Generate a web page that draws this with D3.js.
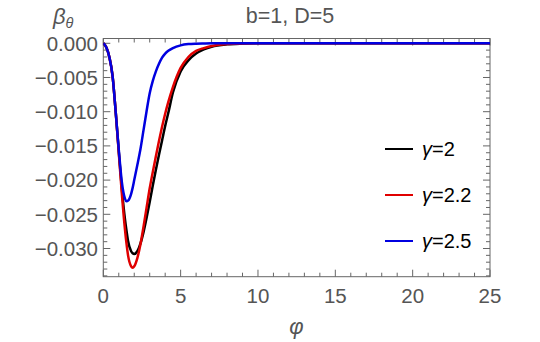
<!DOCTYPE html>
<html><head><meta charset="utf-8">
<script src="https://cdn.jsdelivr.net/npm/d3@7"></script>
<style>body{margin:0;background:#fff}svg{display:block}text{font-family:"Liberation Sans",Arial,sans-serif}</style>
</head><body><svg id="c" width="540" height="342"></svg>
<script>
const title = "b=1, D=5";
const phi = [0,0.2,0.4,0.6,0.8,1.0,1.2,1.4,1.5,1.6,1.8,1.9,2.0,2.2,2.4,2.6,2.8,3.0,3.2,3.4,3.6,3.8,4.0,4.2,4.5,5.0,5.5,6.0,6.5,7.0,8.0,9.0,10,15,20,25];
const gamma2 = [0,-0.0006,-0.0021,-0.0048,-0.0100,-0.0158,-0.0213,-0.0257,-0.0274,-0.0289,-0.0304,-0.0307,-0.0308,-0.0304,-0.0293,-0.0276,-0.0255,-0.0232,-0.0208,-0.0185,-0.0163,-0.0142,-0.0121,-0.0102,-0.0072,-0.0041,-0.0025,-0.0015,-0.0009,-0.0005,-0.00015,-0.00004,0,0,0,0];
const gamma22 = [0,-0.0006,-0.0021,-0.0048,-0.0100,-0.0160,-0.0220,-0.0272,-0.0293,-0.0310,-0.0326,-0.0328,-0.0326,-0.0314,-0.0294,-0.0268,-0.0240,-0.0212,-0.0188,-0.0165,-0.0143,-0.0122,-0.0103,-0.0086,-0.0064,-0.0036,-0.0020,-0.0011,-0.0007,-0.0004,-0.0001,-0.00002,0,0,0,0];
const gamma25 = [0,-0.0006,-0.0021,-0.0048,-0.0100,-0.0155,-0.0203,-0.0227,-0.0231,-0.0230,-0.0220,-0.0211,-0.0200,-0.0178,-0.0155,-0.0127,-0.0099,-0.0073,-0.0055,-0.0041,-0.0030,-0.0021,-0.0015,-0.0011,-0.0007,-0.0003,-0.00012,-0.00005,-0.00002,0,0,0,0,0,0,0];
const seriesNames = ["\u03b3=2","\u03b3=2.2","\u03b3=2.5"];
const seriesColors = ["#000000","#e00000","#0000e0"];
const xTicks = [0,5,10,15,20,25];
const yTicks = [0,-0.005,-0.010,-0.015,-0.020,-0.025,-0.030];
const yTickLabels = ["0.000","\u22120.005","\u22120.010","\u22120.015","\u22120.020","\u22120.025","\u22120.030"];

const svg = d3.select("#c");
const L=103.3, R=490, T=38.5, B=276.7;
const x = d3.scaleLinear().domain([0,25]).range([L,R]);
const y = d3.scaleLinear().domain([-0.03412,0.0007]).range([B,T]);
const gray = "#666";
const txt = "#555";

svg.append("rect").attr("x",L).attr("y",T).attr("width",R-L).attr("height",B-T)
  .attr("fill","none").attr("stroke",gray).attr("stroke-width",1);

const xMinor = d3.range(0,25.001,1);
const yMinor = d3.range(-0.034,0.0005,0.001);
const tk = svg.append("g").attr("stroke",gray).attr("stroke-width",1);
xMinor.forEach(v=>{
  const major = xTicks.includes(Math.round(v*1000)/1000);
  const len = major?7:4;
  tk.append("line").attr("x1",x(v)).attr("x2",x(v)).attr("y1",B).attr("y2",B-len);
  tk.append("line").attr("x1",x(v)).attr("x2",x(v)).attr("y1",T).attr("y2",T+len);
});
yMinor.forEach(v=>{
  const vv = Math.round(v*1000)/1000;
  const major = Math.abs(Math.round(vv*200) - vv*200) < 1e-6;
  const len = major?7:4;
  tk.append("line").attr("y1",y(vv)).attr("y2",y(vv)).attr("x1",L).attr("x2",L+len);
  tk.append("line").attr("y1",y(vv)).attr("y2",y(vv)).attr("x1",R).attr("x2",R-len);
});

svg.append("g").selectAll("text").data(xTicks).join("text")
  .attr("x",d=>x(d)).attr("y",302.5).attr("text-anchor","middle")
  .attr("font-size",20.5).attr("fill",txt).text(d=>d);
svg.append("g").selectAll("text").data(yTicks).join("text")
  .attr("x",98).attr("y",d=>y(d)).attr("dy","0.36em").attr("text-anchor","end")
  .attr("font-size",20.5).attr("fill",txt).text((d,i)=>yTickLabels[i]);

svg.append("text").attr("x",296.5).attr("y",334).attr("text-anchor","middle")
  .attr("font-size",22).attr("font-style","italic").attr("fill",txt).text("\u03c6");
const yl = svg.append("text").attr("x",53).attr("y",24).attr("fill",txt).attr("font-style","italic");
yl.append("tspan").attr("font-size",22).text("\u03b2");
yl.append("tspan").attr("font-size",14.5).attr("dy",4).text("\u03b8");
svg.append("text").attr("x",290).attr("y",23).attr("text-anchor","middle")
  .attr("font-size",21.5).attr("fill",txt).text(title);

const line = d3.line().x(d=>x(d[0])).y(d=>y(d[1])).curve(d3.curveMonotoneX);
const data = [gamma2,gamma22,gamma25];
svg.append("clipPath").attr("id","cp").append("rect").attr("x",L).attr("y",T).attr("width",R-L).attr("height",B-T);
svg.append("g").attr("clip-path","url(#cp)").selectAll("path").data([0,1,2]).join("path")
  .attr("d",i=>line(phi.map((p,k)=>[p,data[i][k]])))
  .attr("fill","none").attr("stroke",i=>seriesColors[i]).attr("stroke-width",2.5).attr("stroke-linejoin","round");

const lg = svg.append("g");
seriesNames.forEach((n,i)=>{
  const ly = 149 + i*46;
  lg.append("line").attr("x1",385).attr("x2",413).attr("y1",ly).attr("y2",ly)
    .attr("stroke",seriesColors[i]).attr("stroke-width",2);
  const t = lg.append("text").attr("x",422).attr("y",ly).attr("dy","0.36em").attr("font-size",20).attr("fill","#000");
  t.append("tspan").attr("font-style","italic").text("\u03b3");
  t.append("tspan").text(n.slice(1));
});
</script></body></html>
